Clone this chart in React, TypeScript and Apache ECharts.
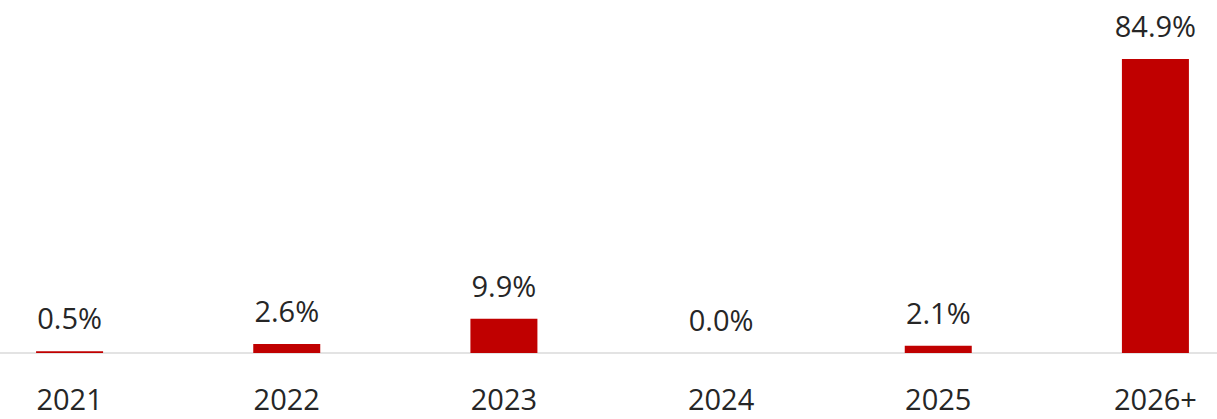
import React, { useEffect, useRef } from "react";
import * as echarts from "echarts";

const categories = ["2021", "2022", "2023", "2024", "2025", "2026+"];
const values = [0.5, 2.6, 9.9, 0.0, 2.1, 84.9];

export default function App() {
  const ref = useRef<HTMLDivElement>(null);
  useEffect(() => {
    if (!ref.current) return;
    const chart = echarts.init(ref.current, null, { renderer: "svg" });
    chart.setOption({
      animation: false,
      grid: { left: 0, right: 0, top: 6.7, bottom: 66 },
      xAxis: {
        type: "category",
        data: categories,
        axisLine: { show: true, lineStyle: { color: "#e3e3e3", width: 2 } },
        axisTick: { show: false },
        axisLabel: {
          color: "#262626",
          fontFamily: "Open Sans",
          fontSize: 29,
          margin: 31,
        },
      },
      yAxis: {
        type: "value",
        min: 0,
        max: 100,
        show: false,
        splitLine: { show: false },
      },
      series: [
        {
          type: "bar",
          data: values,
          barWidth: 67,
          itemStyle: { color: "#C00000" },
          label: {
            show: true,
            position: "top",
            distance: 19,
            formatter: (p: any) => p.value.toFixed(1) + "%",
            color: "#262626",
            fontFamily: "Open Sans",
            fontSize: 29,
          },
        },
      ],
    });
    return () => chart.dispose();
  }, []);
  return (
    <div style={{ position: "fixed", left: 0, top: 0, width: 1217, height: 419, overflow: "hidden", background: "#fff" }}>
      <div
        ref={ref}
        style={{ position: "absolute", left: -39, top: 0, width: 1303, height: 419 }}
      />
    </div>
  );
}
